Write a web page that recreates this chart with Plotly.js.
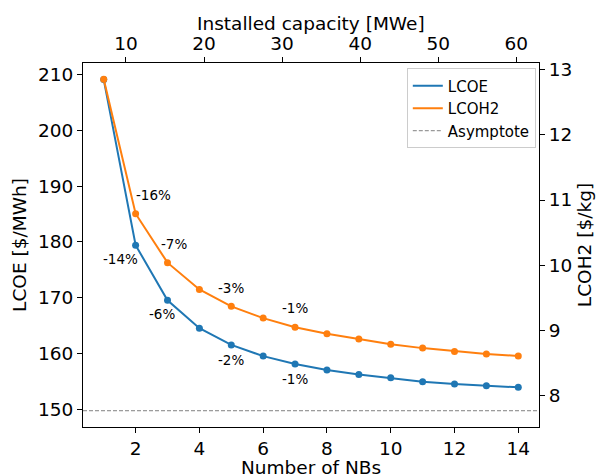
<!DOCTYPE html>
<html>
<head>
<meta charset="utf-8">
<script src="https://cdn.plot.ly/plotly-3.0.1.min.js"></script>
<style>html,body{margin:0;padding:0;background:#fff;}#chart{width:600px;height:476px;}</style>
</head>
<body>
<div id="chart"></div>
<script>
// ---- data ----
const nbs = [1, 2, 3, 4, 5, 6, 7, 8, 9, 10, 11, 12, 13, 14];
const lcoe = [209.1, 179.4, 169.5, 164.5, 161.5, 159.5, 158.1, 157.0, 156.2, 155.6, 154.9, 154.5, 154.2, 153.9];
const lcoh2 = [12.85, 10.79, 10.04, 9.63, 9.37, 9.19, 9.05, 8.95, 8.87, 8.79, 8.73, 8.68, 8.64, 8.61];
const asymptote = 149.7;
const capacityTicks = [10, 20, 30, 40, 50, 60];
const lcoeLabelNbs = [2, 3, 5, 7];
const lcoeLabels = ['-14%', '-6%', '-2%', '-1%'];
const lcoh2LabelNbs = [2, 3, 5, 7];
const lcoh2Labels = ['-16%', '-7%', '-3%', '-1%'];

// ---- styling ----
const blue = '#1f77b4', orange = '#ff7f0e';
const font = 'DejaVu Sans, sans-serif';
const xRange = [0.35, 14.65];
const x2Range = [4.5, 62.9];
const yRange = [146.78, 212.08];
const y2Range = [7.521, 13.10];
const lcoeOff = [[-15, -14], [-6, -14], [0, -15], [0, -15]];
const lcoh2Off = [[18, 19], [6, 19], [0, 18], [0, 19]];

const traces = [
  {x: nbs, y: lcoe, mode: 'lines', name: 'LCOE', line: {color: blue, width: 2}, xaxis: 'x', yaxis: 'y', hoverinfo: 'skip', legendrank: 1001},
  {x: nbs, y: lcoe, mode: 'markers', showlegend: false, marker: {color: blue, size: 7}, xaxis: 'x', yaxis: 'y', hoverinfo: 'skip'},
  {x: xRange, y: [asymptote, asymptote], mode: 'lines', name: 'Asymptote', line: {color: '#808080', width: 1, dash: '4px,2px'}, xaxis: 'x', yaxis: 'y', hoverinfo: 'skip', legendrank: 1003},
  {x: nbs, y: lcoh2, mode: 'lines', name: 'LCOH2', line: {color: orange, width: 2}, xaxis: 'x', yaxis: 'y2', hoverinfo: 'skip', legendrank: 1002},
  {x: nbs, y: lcoh2, mode: 'markers', showlegend: false, marker: {color: orange, size: 7}, xaxis: 'x', yaxis: 'y2', hoverinfo: 'skip'},
  {x: capacityTicks, y: capacityTicks.map(() => null), mode: 'markers', showlegend: false, xaxis: 'x2', yaxis: 'y', hoverinfo: 'skip'}
];

const annotations = [];
lcoeLabelNbs.forEach((n, i) => {
  annotations.push({x: n, y: lcoe[nbs.indexOf(n)], xref: 'x', yref: 'y', text: lcoeLabels[i], showarrow: false,
    xshift: lcoeOff[i][0], yshift: lcoeOff[i][1], font: {family: font, size: 13.5, color: '#000'}});
});
lcoh2LabelNbs.forEach((n, i) => {
  annotations.push({x: n, y: lcoh2[nbs.indexOf(n)], xref: 'x', yref: 'y2', text: lcoh2Labels[i], showarrow: false,
    xshift: lcoh2Off[i][0], yshift: lcoh2Off[i][1], font: {family: font, size: 13.5, color: '#000'}});
});
// axis titles for top and bottom axes
annotations.push({x: 0.5, y: 1.108, xref: 'paper', yref: 'paper', xanchor: 'center', yanchor: 'middle', showarrow: false,
  text: 'Installed capacity [MWe]', font: {family: font, size: 18.5, color: '#000'}});
annotations.push({x: 0.5, y: -0.112, xref: 'paper', yref: 'paper', xanchor: 'center', yanchor: 'middle', showarrow: false,
  text: 'Number of NBs', font: {family: font, size: 18.5, color: '#000'}});

const axisCommon = {showline: true, linecolor: '#000', linewidth: 1, ticks: 'outside', ticklen: 5, tickwidth: 1, tickcolor: '#000',
  showgrid: false, zeroline: false, tickfont: {family: font, size: 18.5, color: '#000'}, fixedrange: true};

const layout = {
  width: 600, height: 476,
  margin: {l: 83, r: 61, t: 63, b: 49},
  paper_bgcolor: '#fff', plot_bgcolor: '#fff',
  font: {family: font, color: '#000'},
  showlegend: true,
  legend: {x: 0.993, y: 0.985, xanchor: 'right', yanchor: 'top', bgcolor: 'rgba(255,255,255,0.8)', bordercolor: '#cccccc', borderwidth: 1,
    font: {family: font, size: 15, color: '#000'}, traceorder: 'normal', tracegroupgap: 0},
  xaxis: Object.assign({}, axisCommon, {range: xRange, tickvals: [2, 4, 6, 8, 10, 12, 14], anchor: 'y'}),
  xaxis2: Object.assign({}, axisCommon, {range: x2Range, tickvals: capacityTicks, overlaying: 'x', side: 'top', anchor: 'y'}),
  yaxis: Object.assign({}, axisCommon, {range: yRange, tickvals: [150, 160, 170, 180, 190, 200, 210],
    title: {text: 'LCOE [$/MWh]', font: {family: font, size: 18.5, color: '#000'}, standoff: 6}}),
  yaxis2: Object.assign({}, axisCommon, {range: y2Range, tickvals: [8, 9, 10, 11, 12, 13], overlaying: 'y', side: 'right', anchor: 'x',
    title: {text: 'LCOH2 [$/kg]', font: {family: font, size: 18.5, color: '#000'}, standoff: 6}}),
  annotations: annotations
};

Plotly.newPlot('chart', traces, layout, {staticPlot: true, displayModeBar: false});
</script>
</body>
</html>
